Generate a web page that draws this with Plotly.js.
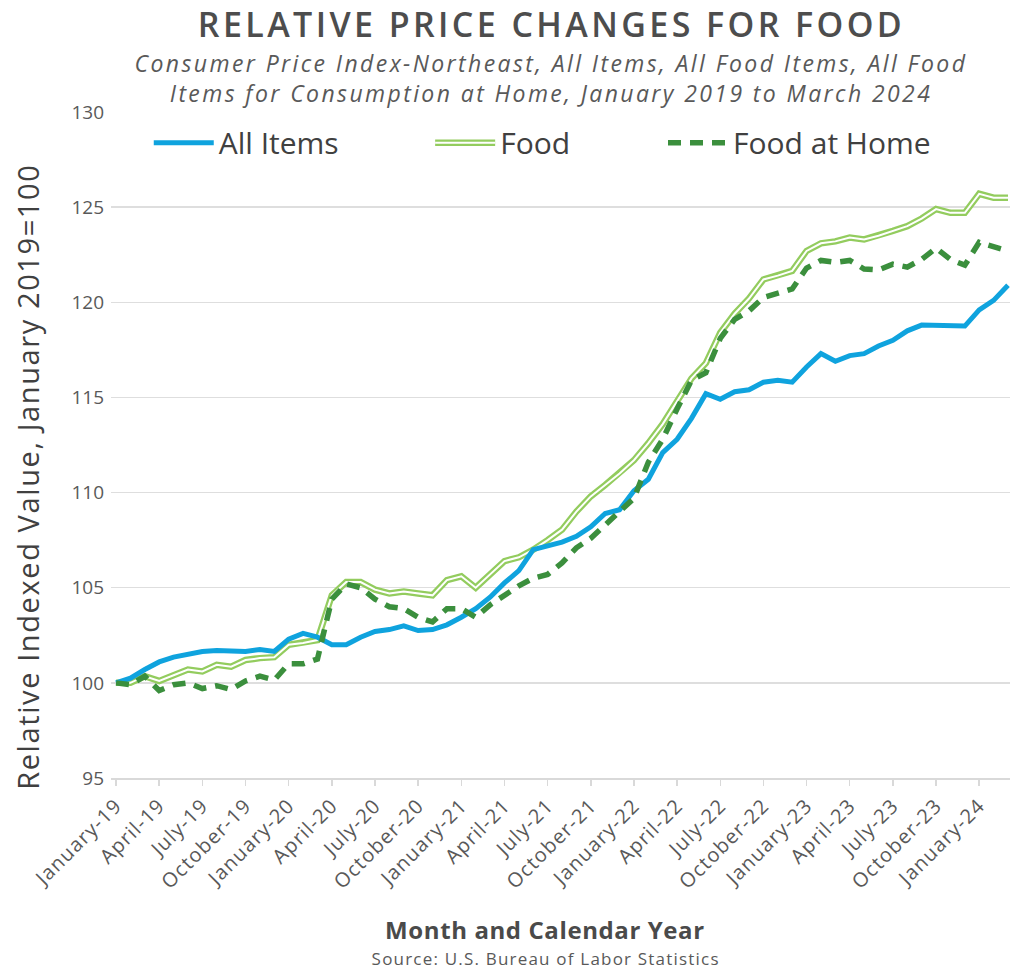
<!DOCTYPE html>
<html>
<head>
<meta charset="utf-8">
<script src="https://cdn.plot.ly/plotly-3.0.1.min.js"></script>
<style>
html,body{margin:0;padding:0;background:#fff;}
#chart{width:1013px;height:971px;}
#chart .gtitle{letter-spacing:3.4px;}
#chart .xtick text{letter-spacing:1.2px;}
</style>
</head>
<body>
<div id="chart"></div>
<script>
// Months January 2019 .. March 2024
const months = [
 "January-19","February-19","March-19","April-19","May-19","June-19","July-19","August-19","September-19","October-19","November-19","December-19",
 "January-20","February-20","March-20","April-20","May-20","June-20","July-20","August-20","September-20","October-20","November-20","December-20",
 "January-21","February-21","March-21","April-21","May-21","June-21","July-21","August-21","September-21","October-21","November-21","December-21",
 "January-22","February-22","March-22","April-22","May-22","June-22","July-22","August-22","September-22","October-22","November-22","December-22",
 "January-23","February-23","March-23","April-23","May-23","June-23","July-23","August-23","September-23","October-23","November-23","December-23",
 "January-24","February-24","March-24"
];

const allItems = [
 100.0,100.25,100.7,101.1,101.35,101.5,101.65,101.7,101.7,101.65,101.75,101.65,
 102.3,102.6,102.4,102.0,102.0,102.4,102.7,102.8,103.0,102.75,102.8,103.05,
 103.45,103.9,104.5,105.25,105.9,107.0,107.2,107.4,107.7,108.2,108.9,109.1,
 110.1,110.7,112.1,112.8,113.9,115.2,114.9,115.3,115.4,115.8,115.9,115.8,
 116.6,117.3,116.9,117.2,117.3,117.7,118.0,118.5,118.8,118.8,118.8,118.75,
 119.6,120.1,120.9
];

const food = [
 100.0,100.0,100.35,100.1,100.4,100.7,100.6,100.95,100.85,101.2,101.3,101.35,
 102.0,102.1,102.25,104.6,105.3,105.3,104.9,104.7,104.8,104.7,104.6,105.4,
 105.6,105.0,105.7,106.4,106.6,107.0,107.5,108.05,109.0,109.8,110.4,111.0,
 111.7,112.6,113.6,114.8,116.0,116.8,118.4,119.4,120.2,121.2,121.4,121.65,
 122.7,123.1,123.2,123.4,123.3,123.5,123.75,124.0,124.4,124.9,124.7,124.7,
 125.7,125.5,125.5
];

const foodAtHome = [
 100.0,99.9,100.35,99.6,99.9,100.0,99.7,99.85,99.65,100.1,100.35,100.15,
 101.0,101.0,101.25,104.4,105.2,105.0,104.4,104.0,103.9,103.45,103.2,103.9,
 103.9,103.45,104.1,104.6,105.1,105.5,105.7,106.3,107.1,107.6,108.3,108.95,
 109.7,111.6,112.8,114.4,115.9,116.3,118.1,119.1,119.55,120.25,120.5,120.7,
 121.8,122.2,122.1,122.2,121.75,121.7,122.0,121.85,122.25,122.85,122.25,121.95,
 123.15,122.9,122.7
];

const tickLabels = [
 "January-19","April-19","July-19","October-19",
 "January-20","April-20","July-20","October-20",
 "January-21","April-21","July-21","October-21",
 "January-22","April-22","July-22","October-22",
 "January-23","April-23","July-23","October-23",
 "January-24"
];

const seriesNames = ["All Items","Food","Food at Home"];

const FONT = "'Open Sans', sans-serif";
const TXT = "#595959";

const traces = [
  {x: months, y: food, type: "scatter", mode: "lines", name: seriesNames[1],
   legend: "legend2",
   line: {color: "#93cc5e", width: 6.5, shape: "linear"}, hoverinfo: "skip"},
  {x: months, y: food, type: "scatter", mode: "lines", name: seriesNames[1] + " inner",
   showlegend: false,
   line: {color: "#ffffff", width: 2}, hoverinfo: "skip"},
  {x: months, y: allItems, type: "scatter", mode: "lines", name: seriesNames[0],
   legend: "legend",
   line: {color: "#0fa3de", width: 5}},
  {x: months, y: foodAtHome, type: "scatter", mode: "lines", name: seriesNames[2],
   legend: "legend3",
   line: {color: "#3b8f3d", width: 5.5, dash: "13px,9px"}}
];

const legendBase = {
  orientation: "h", yanchor: "middle", xanchor: "left",
  y: 0.954, bgcolor: "rgba(0,0,0,0)",
  font: {family: FONT, size: 30, color: "#404040"},
  itemwidth: 60
};

const layout = {
  width: 1013, height: 971,
  margin: {l: 111, r: 3, t: 112, b: 193},
  paper_bgcolor: "#ffffff", plot_bgcolor: "#ffffff",
  font: {family: FONT, color: TXT},
  title: {
    text: "RELATIVE PRICE CHANGES FOR FOOD",
    font: {family: FONT, size: 34, weight: 600, color: "#4d4d4d"},
    xref: "paper", x: 0.49, xanchor: "center",
    yref: "container", y: 0.9745, yanchor: "middle"
  },
  showlegend: true,
  legend: Object.assign({}, legendBase, {x: 0.042}),
  legend2: Object.assign({}, legendBase, {x: 0.355}),
  legend3: Object.assign({}, legendBase, {x: 0.614}),
  xaxis: {
    type: "category",
    range: [-0.35, 62.14],
    tickmode: "array",
    tickvals: tickLabels,
    ticktext: tickLabels,
    tickangle: -45,
    tickfont: {family: FONT, size: 20, color: TXT},
    showgrid: false,
    showline: true, linecolor: "#d9d9d9", linewidth: 2,
    ticks: "outside", ticklen: 6, tickcolor: "#d9d9d9", tickwidth: 1.5,
    zeroline: false,
    fixedrange: true
  },
  yaxis: {
    range: [95, 130],
    dtick: 5, tick0: 95,
    tickfont: {family: FONT, size: 19, color: TXT},
    showgrid: true, gridcolor: "#dedede", gridwidth: 1.5,
    showline: false, zeroline: false,
    ticks: "", ticklabelstandoff: 6,
    fixedrange: true
  },
  annotations: [
    {text: "<i>Consumer Price Index-Northeast, All Items, All Food Items, All Food<br>Items for Consumption at Home, January 2019 to March 2024</i>",
     xref: "paper", yref: "paper", x: 0.49, y: 1.0505, xanchor: "center", yanchor: "middle",
     showarrow: false, align: "center",
     font: {family: FONT, size: 23, color: TXT}},
    {text: "<b>Month and Calendar Year</b>",
     xref: "paper", yref: "paper", x: 0.483, y: -0.228, xanchor: "center", yanchor: "middle",
     showarrow: false, font: {family: FONT, size: 24, color: "#4a4a4a"}},
    {text: "Source: U.S. Bureau of Labor Statistics",
     xref: "paper", yref: "paper", x: 0.483, y: -0.2705, xanchor: "center", yanchor: "middle",
     showarrow: false, font: {family: FONT, size: 17, color: TXT}},
    {text: "Relative Indexed Value, January 2019=100",
     xref: "paper", yref: "paper", x: -0.0925, y: 0.452, xanchor: "center", yanchor: "middle",
     textangle: -90, showarrow: false, font: {family: FONT, size: 29, color: "#404040"}}
  ]
};

Plotly.newPlot("chart", traces, layout, {displayModeBar: false, staticPlot: true}).then(function(gd){
  // widen text like the original wide typeface
  const anns = gd.querySelectorAll(".annotation-text");
  const spacing = ["2.4px", "0.6px", "1.2px", "1.6px"];
  anns.forEach(function(t, k){ if (spacing[k]) t.style.letterSpacing = spacing[k]; });
  // double-line legend swatch for "Food"
  const lp = gd.querySelector(".legend2 .legendlines path");
  if (lp) {
    const inner = lp.cloneNode(true);
    inner.style.stroke = "#ffffff";
    inner.style.strokeWidth = "2px";
    lp.parentNode.appendChild(inner);
  }
});
</script>
</body>
</html>
